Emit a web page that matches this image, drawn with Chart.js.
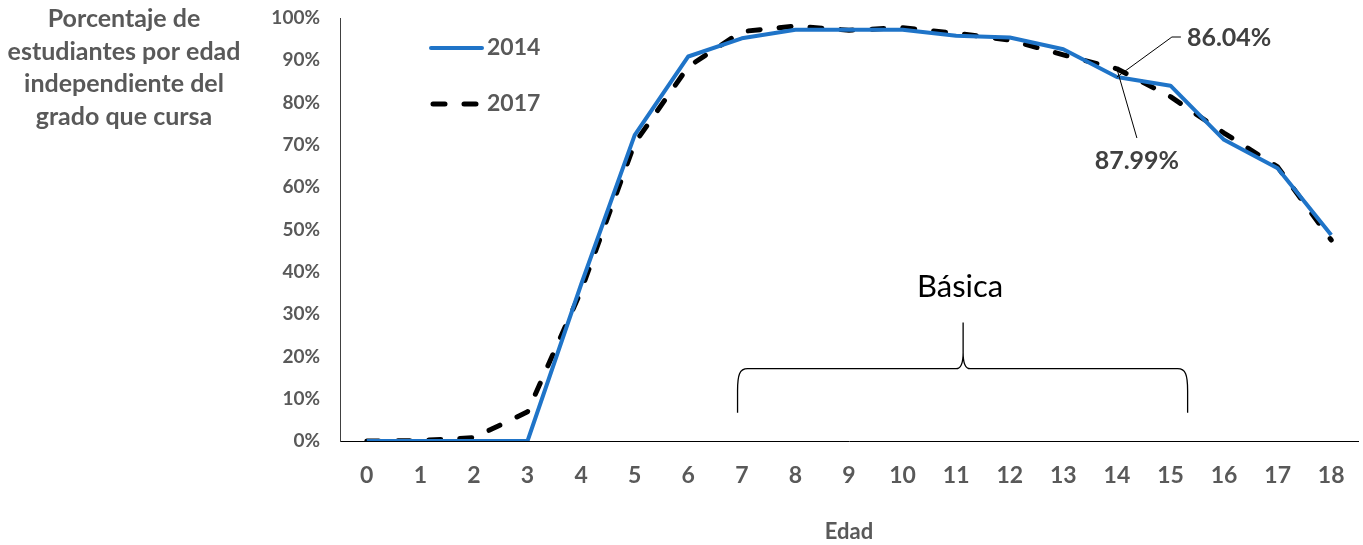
<!DOCTYPE html>
<html lang="es">
<head>
<meta charset="utf-8">
<title>Porcentaje de estudiantes por edad</title>
<script src="https://cdn.jsdelivr.net/npm/chart.js@4.4.1/dist/chart.umd.min.js"></script>
<style>
    html, body { margin: 0; padding: 0; background: #fff; }
    #wrap { position: relative; width: 1363px; height: 545px; }
</style>
</head>
<body>
<div id="wrap"><canvas id="chartEdad"></canvas></div>
<script>
// Data
const edades = ['0', '1', '2', '3', '4', '5', '6', '7', '8', '9', '10', '11', '12', '13', '14', '15', '16', '17', '18'];
const serie2014 = [0, 0, 0, 0, 37, 72.3, 90.9, 95.2, 97.2, 97.2, 97.2, 95.8, 95.4, 92.6, 86.04, 84.0, 71.2, 64.5, 48.7];
const serie2017 = [0, 0.1, 0.8, 6.9, 35.5, 70.4, 88.5, 96.8, 98.1, 97.1, 97.7, 96.4, 94.8, 91.3, 87.99, 81.4, 72.8, 64.8, 47.5];
const etiquetasSeries = ['2014', '2017'];
const tituloY = ['Porcentaje de', 'estudiantes por edad', 'independiente del', 'grado que cursa'];
const edadDestacada = 14;

const gris = '#595959';
const azul = '#1F74C8';

// Extra drawings: y title, legend inside plot, callouts and the "Básica" brace
const extras = {
    id: 'extras',
    afterDraw(chart) {
        const { ctx } = chart;
        const x = chart.scales.x;
        const y = chart.scales.y;
        ctx.save();

        // title on the left, horizontal
        ctx.fillStyle = gris;
        ctx.font = 'bold 25px Lato';
        ctx.textAlign = 'center';
        ctx.textBaseline = 'middle';
        tituloY.forEach((t, i) => ctx.fillText(t, 124, 19 + i * 32.7));

        // legend
        ctx.lineCap = 'round';
        ctx.strokeStyle = azul;
        ctx.lineWidth = 4;
        ctx.beginPath();
        ctx.moveTo(431, 48);
        ctx.lineTo(482, 48);
        ctx.stroke();
        ctx.strokeStyle = '#000';
        ctx.lineWidth = 5;
        ctx.setLineDash([12, 19]);
        ctx.beginPath();
        ctx.moveTo(433, 104);
        ctx.lineTo(480, 104);
        ctx.stroke();
        ctx.setLineDash([]);
        ctx.fillStyle = gris;
        ctx.font = 'bold 23px Lato';
        ctx.textAlign = 'left';
        ctx.fillText(etiquetasSeries[0], 487, 48);
        ctx.fillText(etiquetasSeries[1], 487, 104);

        // callouts at age 14
        const px = x.getPixelForValue(edadDestacada);
        const py14 = y.getPixelForValue(serie2014[edadDestacada]);
        const py17 = y.getPixelForValue(serie2017[edadDestacada]);
        ctx.strokeStyle = '#000';
        ctx.lineWidth = 1;
        ctx.lineCap = 'butt';
        ctx.beginPath();
        ctx.moveTo(px, py14);
        ctx.lineTo(px + 55, 37);
        ctx.lineTo(px + 64, 37);
        ctx.moveTo(px, py17);
        ctx.lineTo(px + 20, 138);
        ctx.stroke();
        ctx.fillStyle = '#404040';
        ctx.font = 'bold 25px Lato';
        ctx.textAlign = 'left';
        ctx.fillText(serie2014[edadDestacada].toFixed(2) + '%', px + 70, 38);
        ctx.textAlign = 'center';
        ctx.fillText(serie2017[edadDestacada].toFixed(2) + '%', px + 20, 161);

        // brace for "Básica"
        const bl = x.getPixelForValue(6.92);
        const br = x.getPixelForValue(15.32);
        const bm = x.getPixelForValue(11.13);
        const yb = y.getPixelForValue(6.7);
        const yh = y.getPixelForValue(17.1);
        const yp = y.getPixelForValue(28);
        ctx.lineWidth = 1.3;
        ctx.beginPath();
        ctx.moveTo(bl, yb);
        ctx.lineTo(bl, yh + 22);
        ctx.bezierCurveTo(bl, yh + 6, bl + 2, yh, bl + 10, yh);
        ctx.lineTo(bm - 7, yh);
        ctx.quadraticCurveTo(bm, yh, bm, yh - 16);
        ctx.lineTo(bm, yp);
        ctx.moveTo(bm, yh - 16);
        ctx.quadraticCurveTo(bm, yh, bm + 7, yh);
        ctx.lineTo(br - 10, yh);
        ctx.bezierCurveTo(br - 2, yh, br, yh + 6, br, yh + 22);
        ctx.lineTo(br, yb);
        ctx.stroke();
        ctx.fillStyle = '#000';
        ctx.font = '31px Lato';
        ctx.textAlign = 'center';
        ctx.textBaseline = 'alphabetic';
        ctx.fillText('Básica', bm - 3, y.getPixelForValue(34.1));

        ctx.restore();
    }
};

function initChart() {
    const ctx = document.getElementById('chartEdad');
    Chart.defaults.font.family = 'Lato';
    new Chart(ctx, {
        type: 'line',
        data: {
            labels: edades,
            datasets: [{
                label: etiquetasSeries[0],
                data: serie2014,
                borderColor: azul,
                borderWidth: 4,
                pointRadius: 0,
                tension: 0,
                borderJoinStyle: 'round'
            }, {
                label: etiquetasSeries[1],
                data: serie2017,
                borderColor: '#000',
                borderWidth: 5,
                borderDash: [12, 19],
                borderCapStyle: 'round',
                borderJoinStyle: 'round',
                pointRadius: 0,
                tension: 0
            }]
        },
        options: {
            responsive: true,
            maintainAspectRatio: false,
            animation: false,
            layout: {
                padding: { top: 18, right: 5, bottom: 0, left: 0 }
            },
            plugins: {
                legend: { display: false },
                tooltip: { enabled: false }
            },
            scales: {
                x: {
                    offset: true,
                    grid: { display: false, drawTicks: false },
                    border: { color: '#000', width: 1 },
                    ticks: {
                        color: gris,
                        font: { size: 23, weight: 'bold' },
                        padding: 21,
                        maxRotation: 0
                    },
                    title: {
                        display: true,
                        text: 'Edad',
                        color: gris,
                        font: { size: 22, weight: 'bold' },
                        padding: { top: 0, bottom: 0 }
                    },
                    afterFit: s => {
                        s.height = 104;
                        s.paddingLeft = 0;
                        s.paddingRight = 0;
                    }
                },
                y: {
                    min: 0,
                    max: 100,
                    grid: { display: false, drawTicks: false },
                    border: { color: '#404040', width: 1 },
                    ticks: {
                        stepSize: 10,
                        color: gris,
                        font: { size: 19, weight: 'bold' },
                        padding: 20,
                        callback: v => v + '%'
                    },
                    afterFit: s => {
                        s.width = 340;
                        s.paddingTop = 0;
                        s.paddingBottom = 0;
                    }
                }
            }
        },
        plugins: [extras]
    });
}

document.addEventListener('DOMContentLoaded', initChart);
</script>
</body>
</html>
